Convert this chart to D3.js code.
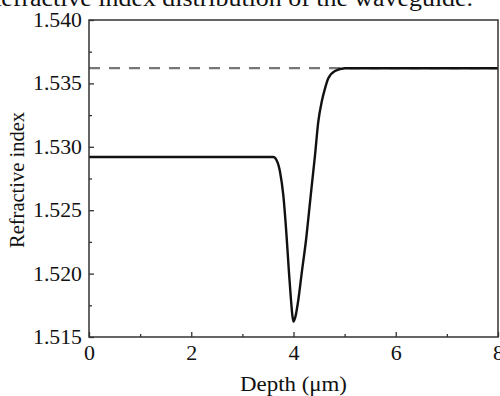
<!DOCTYPE html>
<html><head><meta charset="utf-8">
<script src="https://cdn.jsdelivr.net/npm/d3@7"></script>
<style>html,body{margin:0;padding:0;background:#fff;overflow:hidden}svg{display:block}
svg text{font-family:'Liberation Serif','Times New Roman',serif;fill:#111}</style>
</head><body>
<svg id="c" width="500" height="396"></svg>
<script>
// Data
const depth = [0, 1, 2, 3, 3.5, 3.605, 3.667, 3.736, 3.8, 3.863, 3.912, 3.951, 3.98, 4.0, 4.039, 4.094, 4.16, 4.245, 4.335, 4.421, 4.485, 4.552, 4.617, 4.681, 4.812, 5.007, 6, 7, 8];
const index = [1.5292, 1.5292, 1.5292, 1.5292, 1.5292, 1.5292, 1.52896, 1.52804, 1.5262, 1.52304, 1.52005, 1.51792, 1.51663, 1.51622, 1.51663, 1.51792, 1.52002, 1.52265, 1.5261, 1.52935, 1.53198, 1.53356, 1.53461, 1.5354, 1.53598, 1.53619, 1.5362, 1.5362, 1.5362];
const substrateIndex = 1.5362;
const xTicks = [0, 2, 4, 6, 8];
const xMinor = [1, 3, 5, 7];
const yTicks = [1.515, 1.520, 1.525, 1.530, 1.535, 1.540];
const yMinor = [1.5175, 1.5225, 1.5275, 1.5325, 1.5375];
const title = "Refractive index distribution of the waveguide.";
const xLabel = "Depth (\u03bcm)";
const yLabel = "Refractive index";

const svg = d3.select("#c");
const L = 89, R = 498, T = 20, B = 337;
const x = d3.scaleLinear().domain([0, 8]).range([L, R]);
const y = d3.scaleLinear().domain([1.515, 1.540]).range([B, T]);

svg.append("text").attr("x", -16).attr("y", 6).attr("text-anchor", "start")
  .attr("font-size", 24).attr("textLength", 489).attr("lengthAdjust", "spacingAndGlyphs").text(title);

// dashed substrate line
svg.append("line").attr("x1", x(0)).attr("x2", x(8)).attr("y1", y(substrateIndex)).attr("y2", y(substrateIndex))
  .attr("stroke", "#777").attr("stroke-width", 2.2).attr("stroke-dasharray", "11,9");

const pts = depth.map((d, i) => [d, index[i]]);
svg.append("path").datum(pts)
  .attr("d", d3.line().x(d => x(d[0])).y(d => y(d[1])).curve(d3.curveMonotoneX))
  .attr("fill", "none").attr("stroke", "#111").attr("stroke-width", 2.4).attr("stroke-linejoin", "round");

// frame
svg.append("rect").attr("x", L).attr("y", T).attr("width", R - L).attr("height", B - T)
  .attr("fill", "none").attr("stroke", "#333").attr("stroke-width", 1.5);

// axes
const gx = svg.append("g").attr("transform", `translate(0,${B})`)
  .call(d3.axisBottom(x).tickValues(xTicks).tickSize(-5).tickPadding(9).tickFormat(d3.format("d")));
const gxm = svg.append("g").attr("transform", `translate(0,${B})`)
  .call(d3.axisBottom(x).tickValues(xMinor).tickSize(-3).tickFormat(""));
const gy = svg.append("g").attr("transform", `translate(${L},0)`)
  .call(d3.axisLeft(y).tickValues(yTicks).tickSize(-5).tickPadding(7).tickFormat(d3.format(".3f")));
const gym = svg.append("g").attr("transform", `translate(${L},0)`)
  .call(d3.axisLeft(y).tickValues(yMinor).tickSize(-3).tickFormat(""));
[gx, gxm, gy, gym].forEach(g => {
  g.attr("font-family", null);
  g.select(".domain").remove();
  g.selectAll("line").attr("stroke", "#333").attr("stroke-width", 1.3);
  g.selectAll("text").attr("font-size", 20).attr("fill", "#111");
});
gx.selectAll("text").attr("textLength", 11).attr("lengthAdjust", "spacingAndGlyphs");
gy.selectAll("text").attr("textLength", 49).attr("lengthAdjust", "spacingAndGlyphs");

svg.append("text").attr("x", (L + R) / 2).attr("y", 391).attr("text-anchor", "middle")
  .attr("font-size", 20).attr("textLength", 107).attr("lengthAdjust", "spacingAndGlyphs").text(xLabel);
svg.append("text").attr("transform", `translate(24,${180}) rotate(-90)`).attr("text-anchor", "middle")
  .attr("font-size", 20.5).attr("textLength", 136).attr("lengthAdjust", "spacingAndGlyphs").text(yLabel);
</script>
</body></html>
